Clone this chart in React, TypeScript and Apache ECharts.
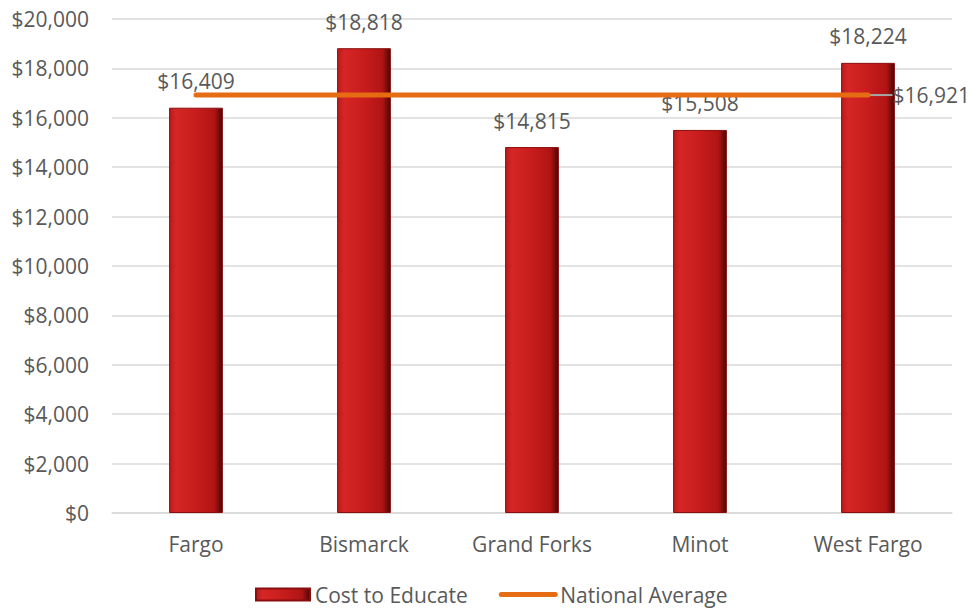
import React, { useEffect, useRef } from "react";
import * as echarts from "echarts";

const categories = ["Fargo", "Bismarck", "Grand Forks", "Minot", "West Fargo"];
const costToEducate = [16409, 18818, 14815, 15508, 18224];
const nationalAverage = [16921, 16921, 16921, 16921, 16921];
const yTicks = { min: 0, max: 20000, interval: 2000 };

const fmt = (v: number) => "$" + v.toLocaleString("en-US");
const FONT = "'Open Sans', sans-serif";
const TXT = "#595959";
const FS = 21;
const ORANGE = "#e66c14";

export default function App() {
  const ref = useRef<HTMLDivElement>(null);
  useEffect(() => {
    if (!ref.current) return;
    const chart = echarts.init(ref.current, undefined, { renderer: "svg" });
    const barColor = new echarts.graphic.LinearGradient(0, 0, 1, 0, [
      { offset: 0, color: "#b81a1a" },
      { offset: 0.12, color: "#d62626" },
      { offset: 0.5, color: "#c81c1c" },
      { offset: 0.85, color: "#b01414" },
      { offset: 1, color: "#4a0606" },
    ]);
    const lastIdx = nationalAverage.length - 1;
    chart.setOption({
      animation: false,
      textStyle: { fontFamily: FONT },
      grid: { left: 112, right: 20, top: 19, bottom: 99, containLabel: false },
      legend: {
        bottom: 2,
        left: 250,
        itemGap: 31,
        itemWidth: 54,
        itemHeight: 12,
        textStyle: { color: TXT, fontSize: FS, fontFamily: FONT },
        data: [
          { name: "Cost to Educate", icon: "rect" },
          {
            name: "National Average",
            lineStyle: { width: 5, color: ORANGE, cap: "round" },
            itemStyle: { color: "rgba(0,0,0,0)", borderWidth: 0 },
          },
        ],
      },
      xAxis: {
        type: "category",
        data: categories,
        axisLine: { show: true, lineStyle: { color: "#d9d9d9", width: 1.5 } },
        axisTick: { show: false },
        axisLabel: { color: TXT, fontSize: FS, fontFamily: FONT, margin: 20 },
      },
      yAxis: {
        type: "value",
        min: yTicks.min,
        max: yTicks.max,
        interval: yTicks.interval,
        axisLine: { show: false },
        axisTick: { show: false },
        splitLine: { lineStyle: { color: "#d9d9d9", width: 1.5 } },
        axisLabel: {
          color: TXT,
          fontSize: FS,
          fontFamily: FONT,
          margin: 23,
          formatter: (v: number) => fmt(v),
        },
      },
      series: [
        {
          name: "Cost to Educate",
          type: "bar",
          data: costToEducate,
          barWidth: "32%",
          itemStyle: { color: barColor, borderColor: "#8a0e0e", borderWidth: 1 },
          label: {
            show: true,
            position: "top",
            distance: 16,
            color: TXT,
            fontSize: FS,
            fontFamily: FONT,
            formatter: (p: any) => fmt(p.value),
          },
        },
        {
          name: "National Average",
          type: "line",
          data: nationalAverage,
          symbol: "none",
          lineStyle: { color: ORANGE, width: 5, cap: "round" },
          itemStyle: { color: ORANGE },
          z: 5,
        },
        {
          name: "avgLabel",
          type: "scatter",
          data: [[categories[lastIdx], nationalAverage[lastIdx]]],
          symbolSize: 1,
          itemStyle: { color: ORANGE, opacity: 1 },
          silent: true,
          z: 4,
          label: {
            show: true,
            position: "right",
            distance: 2,
            color: TXT,
            opacity: 1,
            fontSize: FS,
            fontFamily: FONT,
            formatter: () => fmt(nationalAverage[lastIdx]),
          },
          labelLayout: { dx: 22 },
          labelLine: { show: true, lineStyle: { color: "#a6a6a6", width: 2, opacity: 1 } },
        },
      ],
    });
    return () => chart.dispose();
  }, []);
  return (
    <div
      ref={ref}
      style={{ position: "absolute", left: 0, top: 0, width: 972, height: 612 }}
    />
  );
}
